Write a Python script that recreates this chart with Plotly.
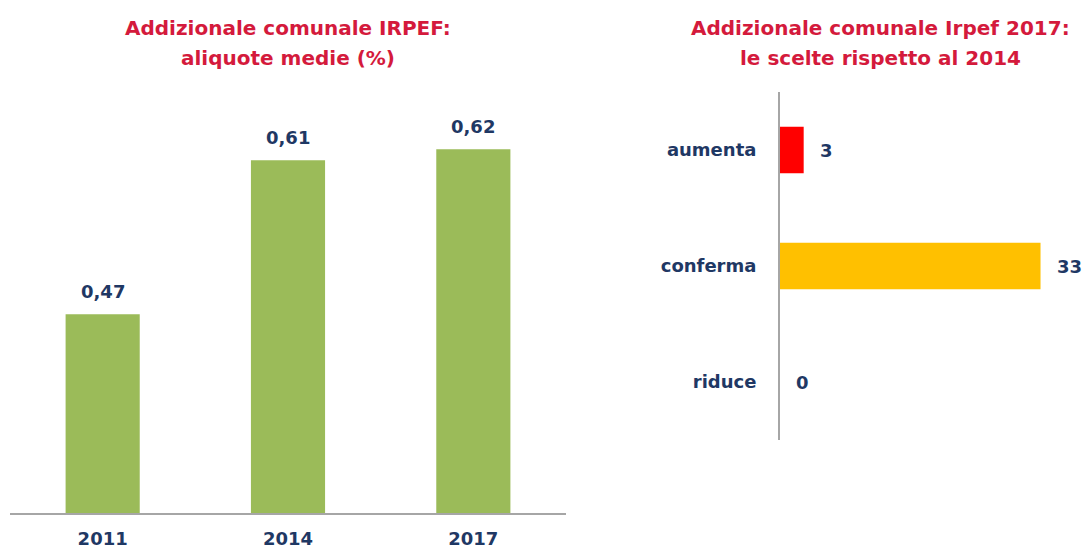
import plotly.graph_objects as go

# Left chart data
years = ["2011", "2014", "2017"]
aliquote = [0.47, 0.61, 0.62]

# Right chart data
scelte = ["aumenta", "conferma", "riduce"]
comuni = [3, 33, 0]
scelte_colors = ["#FF0000", "#FFC000", "#FF0000"]

# Titles
title_left = ["Addizionale comunale IRPEF:", "aliquote medie (%)"]
title_right = ["Addizionale comunale Irpef 2017:", "le scelte rispetto al 2014"]

W, H = 1084, 548
TITLE_COLOR = "#D41A3C"
TEXT_COLOR = "#1F3864"
FONT = "DejaVu Sans"

def px_x(p):
    return p / W

def px_y(p):
    return 1 - p / H

fig = go.Figure()

fig.add_trace(go.Bar(
    x=years, y=aliquote, width=0.4,
    marker=dict(color="#9BBB59", line=dict(width=0)),
    xaxis="x", yaxis="y", hoverinfo="skip", showlegend=False,
))

fig.add_trace(go.Bar(
    x=comuni, y=scelte, orientation="h", width=0.4,
    marker=dict(color=scelte_colors, line=dict(width=0)),
    xaxis="x2", yaxis="y2", hoverinfo="skip", showlegend=False,
))

annotations = []
for i, v in enumerate(aliquote):
    annotations.append(dict(
        x=i, y=v, xref="x", yref="y", text=f"{v:.2f}".replace(".", ","),
        showarrow=False, yanchor="bottom", yshift=10,
        font=dict(family=FONT, size=18, color=TEXT_COLOR, weight="bold"),
    ))
for i, v in enumerate(comuni):
    annotations.append(dict(
        x=v, y=i, xref="x2", yref="y2", text=str(v),
        showarrow=False, xanchor="left", xshift=14,
        font=dict(family=FONT, size=18, color=TEXT_COLOR, weight="bold"),
    ))

for cx, lines in ((288, title_left), (880, title_right)):
    for ly, line in zip((28, 58), lines):
        annotations.append(dict(
            x=px_x(cx), y=px_y(ly), xref="paper", yref="paper",
            text=line, showarrow=False, xanchor="center", yanchor="middle",
            font=dict(family=FONT, size=20, color=TITLE_COLOR, weight="bold"),
        ))

fig.update_layout(
    width=W, height=H,
    margin=dict(l=0, r=0, t=0, b=0),
    paper_bgcolor="white", plot_bgcolor="white",
    separators=",.",
    annotations=annotations,
    xaxis=dict(
        type="category", range=[-0.5, 2.5],
        domain=[px_x(10), px_x(566)], anchor="y",
        showline=True, linecolor="#A6A6A6", linewidth=2,
        showgrid=False, zeroline=False, ticks="",
        tickfont=dict(family=FONT, size=18, color=TEXT_COLOR, weight="bold"),
        ticklabelstandoff=8, automargin=False,
    ),
    yaxis=dict(
        domain=[px_y(513), px_y(90)], anchor="x",
        range=[0.289, 0.674], visible=False, showgrid=False,
    ),
    xaxis2=dict(
        domain=[px_x(780), px_x(1050)], anchor="y2",
        range=[0, 34.2], visible=False, showgrid=False, zeroline=False,
    ),
    yaxis2=dict(
        type="category", range=[2.5, -0.5],
        domain=[px_y(440), px_y(92)], anchor="x2",
        showline=True, linecolor="#A6A6A6", linewidth=2,
        showgrid=False, zeroline=False, ticks="",
        tickfont=dict(family=FONT, size=18, color=TEXT_COLOR, weight="bold"),
        ticklabelstandoff=18, automargin=False,
    ),
)

fig.write_html("out.html", config={"displayModeBar": False},
               post_script="document.body.style.margin='0';")
